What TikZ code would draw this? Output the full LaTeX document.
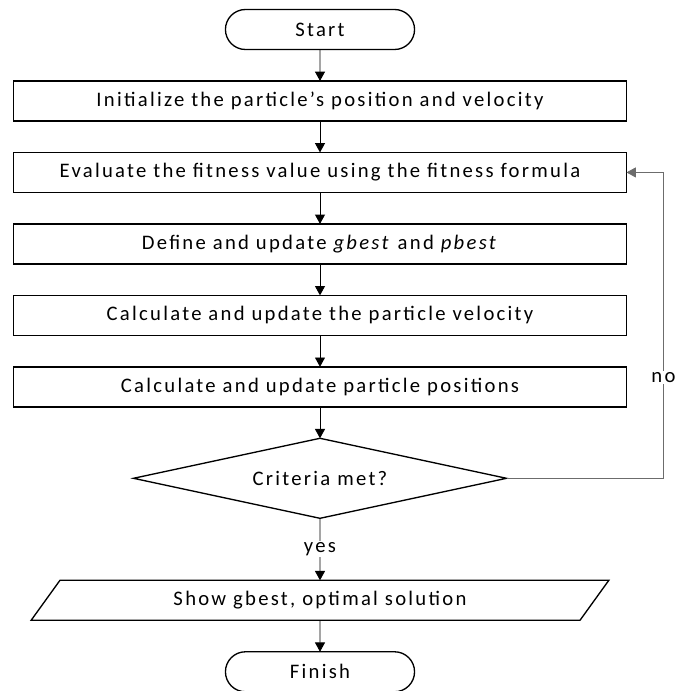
\documentclass[tikz,border=0pt]{standalone}
\usepackage{fontspec}
\setmainfont[LetterSpace=11]{Carlito}
\usetikzlibrary{positioning}
\usetikzlibrary{shapes.geometric, shapes.misc}
\usetikzlibrary{arrows.meta}

\begin{document}
\begin{tikzpicture}[
		node distance=23.6pt,
		every node/.style={font=\fontsize{15.5}{17}\selectfont},
		process/.style={
			rectangle, draw, line width=1pt, outer sep=0pt,
			minimum height=30pt,
			minimum width=459.75pt
		},
		terminal/.style={
			rounded rectangle, draw, line width=1pt, outer sep=0pt,
			minimum height=30pt,
			minimum width=148.5pt
		},
		decision/.style={
			diamond, draw, line width=1pt, outer sep=0pt, aspect=4.6, inner sep=1pt,
			minimum width=279.75pt,
			minimum height=60pt
		},
		io/.style={
			trapezium, draw, line width=1pt, outer sep=0pt,
			trapezium left angle=58, trapezium right angle=122,
			trapezium stretches=true,
			minimum height=30pt,
			minimum width=434.25pt
		},
		flow/.style={draw, line width=0.7pt, -{Triangle[length=7pt, width=7.5pt]}},
		back/.style={flow, draw=gray!85!black, line width=0.6pt}
	]
		\node[terminal](start){Start};
		\useasboundingbox ([shift={(-240pt,22.125pt)}] start.center) rectangle ([shift={(267pt,-496.125pt)}] start.center);
		
		\node[process, below=of start](init){Initialize the particle's position and velocity};
		\node[process, below=of init](eval){Evaluate the fitness value using the fitness formula};
		\node[process, below=of eval](best){Define and update \textit{gbest} and \textit{pbest}};
		\node[process, below=of best](vel){Calculate and update the particle velocity};
		\node[process, below=of vel](pos){Calculate and update particle positions};
		\node[decision, below=of pos](crit){Criteria met?};
		\node[io, below=46.5pt of crit](show){Show gbest, optimal solution};
		\node[terminal, below=of show](finish){Finish};
		
		\coordinate (loop) at ([xshift=27.75pt] eval.east);
		
		\draw[flow] (start) -- (init);
		\draw[flow] (init) -- (eval);
		\draw[flow] (eval) -- (best);
		\draw[flow] (best) -- (vel);
		\draw[flow] (vel) -- (pos);
		\draw[flow] (pos) -- (crit);
		\draw[flow] (crit) -- node[fill=white, inner sep=1pt]{yes} (show);
		\draw[flow] (show) -- (finish);
		\draw[back] (crit.east) -| node[pos=0.665, fill=white, inner sep=1pt]{no} (loop) -- (eval.east);
	\end{tikzpicture}
\end{document}
